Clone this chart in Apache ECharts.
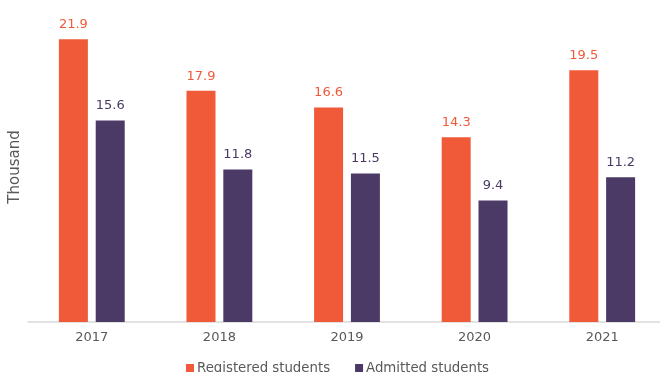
<!DOCTYPE html>
<html><head><meta charset="utf-8">
<script src="https://cdn.jsdelivr.net/npm/echarts@6/dist/echarts.min.js"></script>
<style>html,body{margin:0;padding:0;background:#fff}#c{width:660px;height:372px}</style>
</head><body><div id="c"></div>
<script>
const categories = ['2017','2018','2019','2020','2021'];
const registered = [21.9, 17.9, 16.6, 14.3, 19.5];
const admitted = [15.6, 11.8, 11.5, 9.4, 11.2];
const seriesNames = ['Registered students','Admitted students'];
const yAxisName = 'Thousand';

const chart = echarts.init(document.getElementById('c'));
const font = 'DejaVu Sans';
chart.setOption({
  animation:false,
  textStyle:{fontFamily:font},
  grid:{left:28, right:-6, top:12, bottom:50, containLabel:false, outerBoundsMode:'none'},
  legend:{top:357, left:181, itemWidth:8, itemHeight:9, itemGap:25, icon:'rect',
    textStyle:{fontFamily:font, fontSize:13.3, color:'#595959', padding:[0,0,0,-2]},
    data:seriesNames},
  xAxis:{type:'category', data:categories,
    axisLine:{lineStyle:{color:'#d9d9d9', width:1.5}}, axisTick:{show:false},
    axisLabel:{fontFamily:font, fontSize:13, color:'#595959', margin:9}},
  yAxis:{type:'value', min:0, max:24, show:true,
    axisLine:{show:false}, axisTick:{show:false}, axisLabel:{show:false}, splitLine:{show:false},
    name:yAxisName, nameLocation:'middle', nameGap:5, nameRotate:90,
    nameTextStyle:{fontFamily:font, fontSize:15, color:'#595959'}},
  series:[
    {name:seriesNames[0], type:'bar', data:registered, barWidth:29, barGap:'27%',
     itemStyle:{color:'#F05A38'},
     label:{show:true, position:'top', distance:8, color:'#F05A38', fontFamily:font, fontSize:13}},
    {name:seriesNames[1], type:'bar', data:admitted, barWidth:29,
     itemStyle:{color:'#4B3A66'},
     label:{show:true, position:'top', distance:8, color:'#4B3A66', fontFamily:font, fontSize:13}}
  ]
});
</script></body></html>
